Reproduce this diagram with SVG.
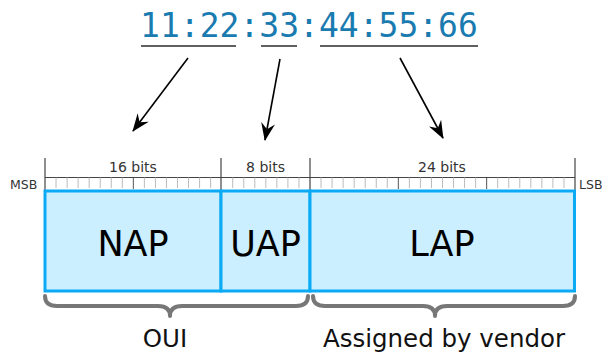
<svg xmlns="http://www.w3.org/2000/svg" width="602" height="352" viewBox="0 0 602 352">
<style>
.addr{font-family:"DejaVu Sans Mono",monospace;font-size:33px;fill:#1a7bb0}
.ul{stroke:#606060;stroke-width:2.2;fill:none}
.arr{stroke:#000;stroke-width:1.6;fill:none}
.lbl{font-family:"DejaVu Sans",sans-serif;fill:#333;font-size:14px;text-anchor:middle}
.msb{font-family:"DejaVu Sans",sans-serif;fill:#333;font-size:12.5px}
.seg{fill:#ccefff;stroke:#0aaaf5;stroke-width:3}
.big{font-family:"DejaVu Sans",sans-serif;fill:#000;font-size:35px;text-anchor:middle}
.brace{stroke:#777;stroke-width:4;fill:none;stroke-linecap:round;stroke-linejoin:round}
.cap{font-family:"DejaVu Sans",sans-serif;fill:#111;font-size:24.5px;text-anchor:middle}
.tk{stroke:#bbb;stroke-width:1}
.tk8{stroke:#555;stroke-width:1}
.tkL{stroke:#444;stroke-width:1.2}
</style>
<defs>
<marker id="ah" viewBox="0 0 18 14" refX="17" refY="7" markerWidth="18" markerHeight="14" markerUnits="userSpaceOnUse" orient="auto">
<path d="M18,7 L0,0 L6,7 L0,14 Z" fill="#000"/>
</marker>
</defs>
<g id="address">
<text class="addr" x="309" y="37" text-anchor="middle">11:22:33:44:55:66</text>
<line class="ul" x1="141" y1="46" x2="236" y2="46"/>
<line class="ul" x1="261" y1="46" x2="297" y2="46"/>
<line class="ul" x1="320" y1="46" x2="478" y2="46"/>
</g>
<g id="connectors">
<line class="arr" x1="188" y1="58" x2="133" y2="131" marker-end="url(#ah)"/>
<line class="arr" x1="280" y1="59" x2="265" y2="140" marker-end="url(#ah)"/>
<line class="arr" x1="400" y1="58" x2="443" y2="138" marker-end="url(#ah)"/>
</g>
<g id="ruler">
<line class="tkL" x1="45" y1="177.5" x2="575" y2="177.5"/>
<g>
<line class="tk" x1="56.04" y1="177.5" x2="56.04" y2="188"/>
<line class="tk" x1="67.08" y1="177.5" x2="67.08" y2="188"/>
<line class="tk" x1="78.12" y1="177.5" x2="78.12" y2="188"/>
<line class="tk" x1="89.17" y1="177.5" x2="89.17" y2="188"/>
<line class="tk" x1="100.21" y1="177.5" x2="100.21" y2="188"/>
<line class="tk" x1="111.25" y1="177.5" x2="111.25" y2="188"/>
<line class="tk" x1="122.29" y1="177.5" x2="122.29" y2="188"/>
<line class="tk8" x1="133.33" y1="177.5" x2="133.33" y2="189"/>
<line class="tk" x1="144.37" y1="177.5" x2="144.37" y2="188"/>
<line class="tk" x1="155.42" y1="177.5" x2="155.42" y2="188"/>
<line class="tk" x1="166.46" y1="177.5" x2="166.46" y2="188"/>
<line class="tk" x1="177.5" y1="177.5" x2="177.5" y2="188"/>
<line class="tk" x1="188.54" y1="177.5" x2="188.54" y2="188"/>
<line class="tk" x1="199.58" y1="177.5" x2="199.58" y2="188"/>
<line class="tk" x1="210.62" y1="177.5" x2="210.62" y2="188"/>
<line class="tk" x1="232.71" y1="177.5" x2="232.71" y2="188"/>
<line class="tk" x1="243.75" y1="177.5" x2="243.75" y2="188"/>
<line class="tk" x1="254.79" y1="177.5" x2="254.79" y2="188"/>
<line class="tk" x1="265.83" y1="177.5" x2="265.83" y2="188"/>
<line class="tk" x1="276.87" y1="177.5" x2="276.87" y2="188"/>
<line class="tk" x1="287.92" y1="177.5" x2="287.92" y2="188"/>
<line class="tk" x1="298.96" y1="177.5" x2="298.96" y2="188"/>
<line class="tk" x1="321.04" y1="177.5" x2="321.04" y2="188"/>
<line class="tk" x1="332.08" y1="177.5" x2="332.08" y2="188"/>
<line class="tk" x1="343.12" y1="177.5" x2="343.12" y2="188"/>
<line class="tk" x1="354.17" y1="177.5" x2="354.17" y2="188"/>
<line class="tk" x1="365.21" y1="177.5" x2="365.21" y2="188"/>
<line class="tk" x1="376.25" y1="177.5" x2="376.25" y2="188"/>
<line class="tk" x1="387.29" y1="177.5" x2="387.29" y2="188"/>
<line class="tk8" x1="398.33" y1="177.5" x2="398.33" y2="189"/>
<line class="tk" x1="409.37" y1="177.5" x2="409.37" y2="188"/>
<line class="tk" x1="420.42" y1="177.5" x2="420.42" y2="188"/>
<line class="tk" x1="431.46" y1="177.5" x2="431.46" y2="188"/>
<line class="tk" x1="442.5" y1="177.5" x2="442.5" y2="188"/>
<line class="tk" x1="453.54" y1="177.5" x2="453.54" y2="188"/>
<line class="tk" x1="464.58" y1="177.5" x2="464.58" y2="188"/>
<line class="tk" x1="475.62" y1="177.5" x2="475.62" y2="188"/>
<line class="tk8" x1="486.67" y1="177.5" x2="486.67" y2="189"/>
<line class="tk" x1="497.71" y1="177.5" x2="497.71" y2="188"/>
<line class="tk" x1="508.75" y1="177.5" x2="508.75" y2="188"/>
<line class="tk" x1="519.79" y1="177.5" x2="519.79" y2="188"/>
<line class="tk" x1="530.83" y1="177.5" x2="530.83" y2="188"/>
<line class="tk" x1="541.87" y1="177.5" x2="541.87" y2="188"/>
<line class="tk" x1="552.92" y1="177.5" x2="552.92" y2="188"/>
<line class="tk" x1="563.96" y1="177.5" x2="563.96" y2="188"/>
</g>
<line class="tkL" x1="45" y1="158" x2="45" y2="190"/>
<line class="tkL" x1="221" y1="158" x2="221" y2="190"/>
<line class="tkL" x1="310" y1="158" x2="310" y2="190"/>
<line class="tkL" x1="575" y1="158" x2="575" y2="190"/>
<text class="lbl" x="133" y="171.5">16 bits</text>
<text class="lbl" x="265.5" y="171.5">8 bits</text>
<text class="lbl" x="442" y="171.5">24 bits</text>
<text class="msb" x="10" y="189">MSB</text>
<text class="msb" x="579" y="189">LSB</text>
</g>
<g id="NAP">
<rect class="seg" x="45" y="191" width="176" height="100"/>
<text class="big" x="133" y="256">NAP</text>
</g>
<g id="UAP">
<rect class="seg" x="221" y="191" width="89" height="100"/>
<text class="big" x="265.5" y="256">UAP</text>
</g>
<g id="LAP">
<rect class="seg" x="310" y="191" width="264.5" height="100"/>
<text class="big" x="442" y="256">LAP</text>
</g>
<g id="OUI">
<path class="brace" d="M45,296 Q45,306 57,306 L158,306 Q170,306 170,316 Q170,306 182,306 L296,306 Q308,306 308,296"/>
<text class="cap" x="165" y="346.5">OUI</text>
</g>
<g id="vendor">
<path class="brace" d="M313,296 Q313,306 325,306 L423,306 Q435,306 435,316 Q435,306 447,306 L563,306 Q575,306 575,296"/>
<text class="cap" x="444" y="346.5">Assigned by vendor</text>
</g>
</svg>
